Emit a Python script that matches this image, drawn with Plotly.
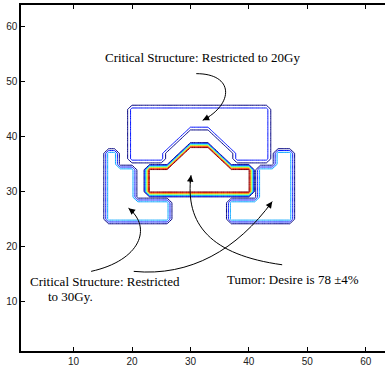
import numpy as np
import plotly.graph_objects as go

# ---- data: structures on a 64x64 grid (row y, run start x, run end x) ----
grid_n = 64

tumor_rows = [30, 31, 32, 33, 34, 35, 36, 37, 38]
tumor_x0 = [23, 23, 23, 23, 23, 27, 28, 29, 30]
tumor_x1 = [40, 40, 40, 40, 40, 36, 35, 34, 33]
tumor_dose = 78

upper_rows = [36, 36, 37, 37, 38, 38, 39, 39, 40, 40, 41, 41, 42, 43, 44, 45]
upper_x0 = [20, 38, 20, 38, 20, 37, 20, 36, 20, 35, 20, 34, 20, 20, 20, 20]
upper_x1 = [25, 43, 25, 43, 26, 43, 27, 43, 28, 43, 29, 43, 43, 43, 43, 43]
upper_dose = 20

lowl_rows = [25, 26, 27, 28, 29, 30, 31, 32, 33, 34, 35, 36, 37]
lowl_x0 = [16, 16, 16, 16, 16, 16, 16, 16, 16, 16, 16, 16, 16]
lowl_x1 = [26, 26, 26, 26, 20, 20, 20, 20, 20, 20, 17, 17, 17]
lowr_rows = [25, 26, 27, 28, 29, 30, 31, 32, 33, 34, 35, 36, 37]
lowr_x0 = [37, 37, 37, 37, 42, 42, 42, 42, 42, 42, 45, 45, 45]
lowr_x1 = [47, 47, 47, 47, 47, 47, 47, 47, 47, 47, 47, 47, 47]
lower_dose = 30

contour_levels = [5, 75, 10]  # start, end, step

x_ticks = [10, 20, 30, 40, 50, 60]
y_ticks = [10, 20, 30, 40, 50, 60]

# annotation texts and arrow curves (start, ctrl1, ctrl2, end) in data units
label_20 = "Critical Structure: Restricted to 20Gy"
label_30a = "Critical Structure: Restricted"
label_30b = "to 30Gy."
label_tumor = "Tumor: Desire is 78 \u00b14%"

arrow_curves = [
    [(31.0, 51.5), (37.5, 51.5), (37.5, 46.0), (32.1, 43.0)],
    [(13.0, 15.5), (21.5, 17.5), (23.5, 23.5), (19.4, 27.0)],
    [(20.3, 15.5), (30.0, 14.5), (38.0, 19.5), (44.0, 28.2)],
    [(45.7, 16.7), (33.5, 18.5), (29.0, 24.0), (30.1, 33.0)],
]

# ---- build the matrix ----
Z = np.zeros((grid_n, grid_n))
for rows, a, b, d in [(tumor_rows, tumor_x0, tumor_x1, tumor_dose),
                      (upper_rows, upper_x0, upper_x1, upper_dose),
                      (lowl_rows, lowl_x0, lowl_x1, lower_dose),
                      (lowr_rows, lowr_x0, lowr_x1, lower_dose)]:
    for r, s, e in zip(rows, a, b):
        Z[r - 1, s - 1:e] = d

jet = [[0.0, "rgb(0,0,128)"], [0.125, "rgb(0,0,255)"], [0.375, "rgb(0,255,255)"],
       [0.625, "rgb(255,255,0)"], [0.875, "rgb(255,0,0)"], [1.0, "rgb(128,0,0)"]]

fig = go.Figure()
fig.add_trace(go.Contour(
    x=np.arange(1, grid_n + 1), y=np.arange(1, grid_n + 1), z=Z,
    contours=dict(coloring="lines", start=contour_levels[0], end=contour_levels[1],
                  size=contour_levels[2]),
    line=dict(width=1, smoothing=0),
    colorscale=jet, zauto=False, zmin=0, zmax=tumor_dose,
    showscale=False, hoverinfo="skip"))

serif = "Liberation Serif, Times New Roman, serif"
tf = dict(family=serif, size=13, color="black")
ann = [
    dict(x=32.0, y=54.4, text=label_20, showarrow=False, font=tf, xanchor="center", yanchor="middle"),
    dict(x=2.2, y=13.7, text=label_30a, showarrow=False, font=tf, xanchor="left", yanchor="middle"),
    dict(x=5.2, y=11.0, text=label_30b, showarrow=False, font=tf, xanchor="left", yanchor="middle"),
    dict(x=35.9, y=14.0, text=label_tumor, showarrow=False, font=tf, xanchor="left", yanchor="middle"),
]

x_range = [1, 63.3]
y_range = [1, 64]
W, H = 385, 366
ml, mr, mt, mb = 21, 0, 5, 15
px_x = (W - ml - mr) / (x_range[1] - x_range[0])
px_y = (H - mt - mb) / (y_range[1] - y_range[0])

shapes = []
for p0, p1, p2, p3 in arrow_curves:
    shapes.append(dict(type="path", xref="x", yref="y",
                       path=f"M {p0[0]},{p0[1]} C {p1[0]},{p1[1]} {p2[0]},{p2[1]} {p3[0]},{p3[1]}",
                       line=dict(color="black", width=1)))
    dx = (p2[0] - p3[0]) * px_x
    dy = -(p2[1] - p3[1]) * px_y
    n = (dx * dx + dy * dy) ** 0.5
    ann.append(dict(x=p3[0], y=p3[1], ax=dx / n * 9, ay=dy / n * 9, text="",
                    showarrow=True, arrowhead=2, arrowsize=1.3, arrowwidth=1,
                    arrowcolor="black", xref="x", yref="y"))

axis_common = dict(showgrid=False, zeroline=False, showline=True, linecolor="black",
                   linewidth=1.5, ticks="inside", ticklen=4, tickwidth=1, tickcolor="black",
                   automargin=False,
                   tickfont=dict(family="Liberation Sans, Arial, sans-serif", size=10, color="#222"))
fig.update_layout(
    width=W, height=H, margin=dict(l=ml, r=mr, t=mt, b=mb),
    paper_bgcolor="white", plot_bgcolor="white",
    xaxis=dict(range=x_range, tickvals=x_ticks, mirror="ticks", **axis_common),
    yaxis=dict(range=y_range, tickvals=y_ticks, mirror=False, **axis_common),
    annotations=ann, shapes=shapes, showlegend=False)

fig.write_html("out.html", config={"displayModeBar": False},
               post_script="document.body.style.margin='0';document.body.style.overflow='hidden';")
